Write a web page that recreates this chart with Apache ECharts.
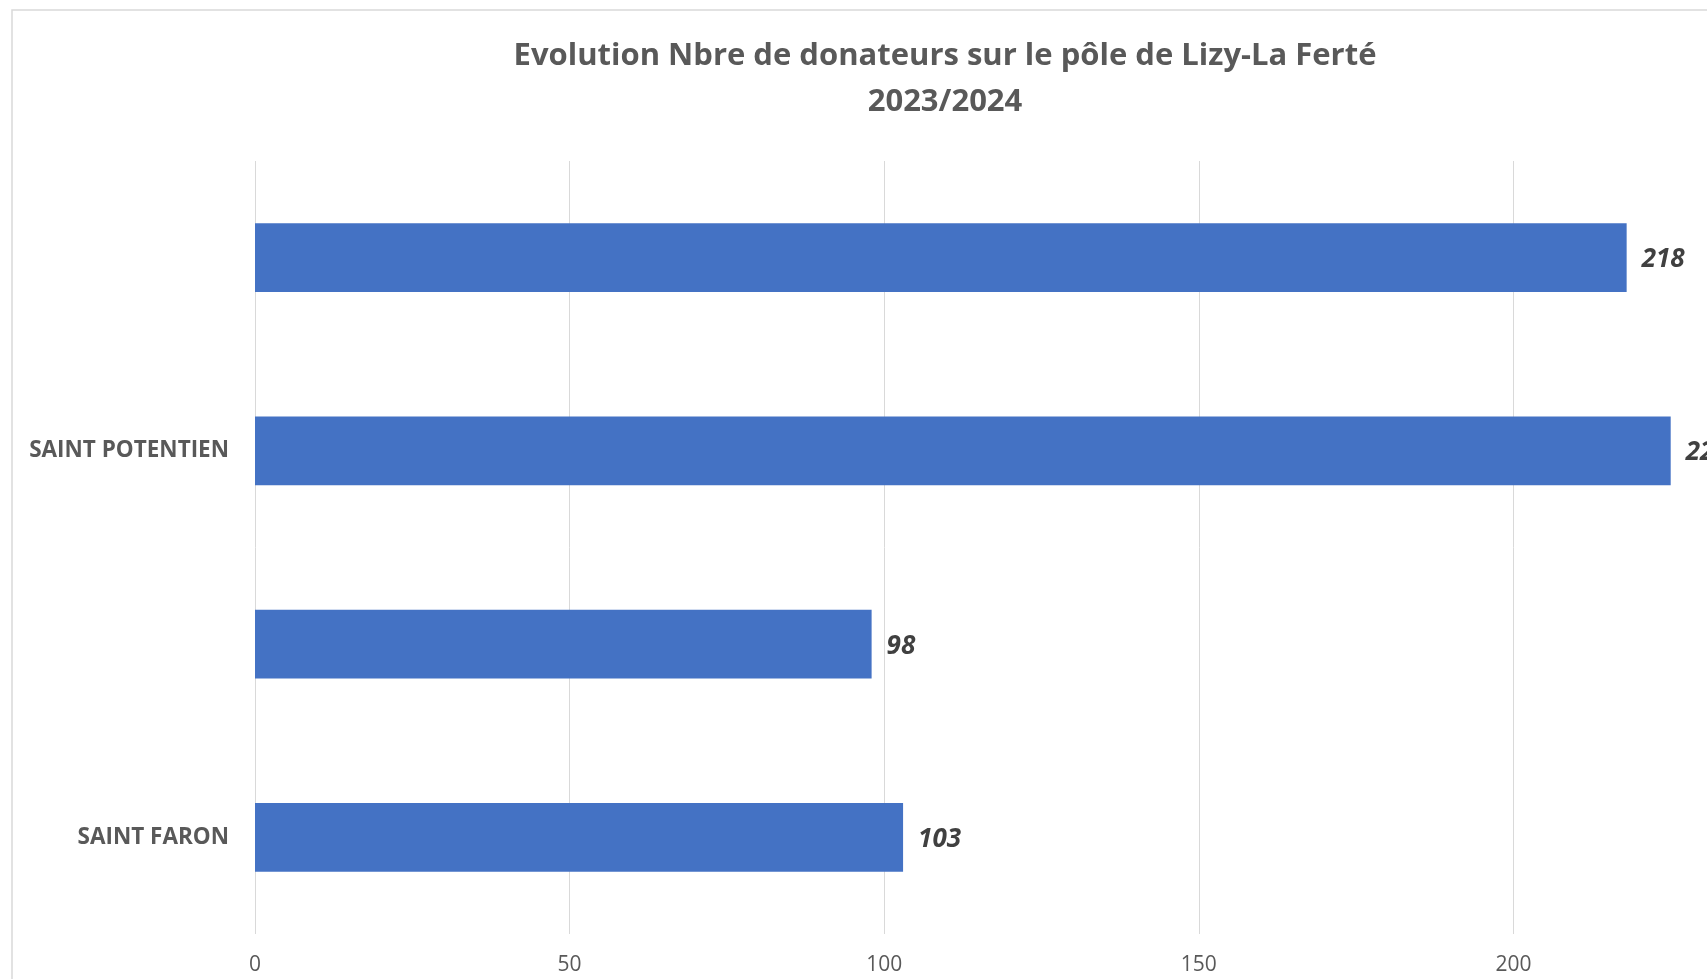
<!DOCTYPE html>
<html><head><meta charset="utf-8">
<script src="https://cdn.jsdelivr.net/npm/echarts@6/dist/echarts.min.js"></script>
<style>html,body{margin:0;padding:0;background:#fff}#c{width:1707px;height:979px}</style>
</head><body><div id="c"></div>
<script>
var categories = ['SAINT FARON', '', 'SAINT POTENTIEN', ''];
var values = [103, 98, 225, 218];
var xTicks = {min: 0, max: 250, interval: 50};
var titleText = 'Evolution Nbre de donateurs sur le pôle de Lizy-La Ferté\n2023/2024';

var chart = echarts.init(document.getElementById('c'));
chart.setOption({
  backgroundColor: '#fff',
  animation: false,
  title: {
    text: titleText,
    left: 940, top: 28, textAlign: 'center',
    textStyle: {fontFamily: 'Open Sans', fontWeight: 'bold', fontSize: 31, lineHeight: 46, color: '#595959'}
  },
  graphic: [{type: 'rect', shape: {x: 12, y: 10, width: 1900, height: 1100}, style: {fill: 'none', stroke: '#d9d9d9', lineWidth: 1.5}, silent: true, z: -1}],
  grid: {left: 255, top: 161, height: 773, width: 1573, containLabel: false, outerBoundsMode: 'none'},
  xAxis: {
    type: 'value', min: xTicks.min, max: xTicks.max, interval: xTicks.interval,
    axisLine: {show: false}, axisTick: {show: false},
    splitLine: {show: true, lineStyle: {color: '#d9d9d9', width: 1}},
    axisLabel: {margin: 21, fontFamily: 'Open Sans', fontSize: 21, color: '#595959'}
  },
  yAxis: {
    type: 'category', data: categories,
    axisLine: {show: false}, axisTick: {show: false},
    axisLabel: {interval: 0, margin: 26, fontFamily: 'Open Sans', fontWeight: 'bold', fontSize: 22.5, color: '#595959'}
  },
  series: [{
    type: 'bar', data: values, barWidth: '35.5%',
    itemStyle: {color: '#4472C4'},
    label: {show: true, position: 'right', distance: 15, offset: [0, 2], fontFamily: 'Open Sans', fontWeight: 'bold', fontStyle: 'italic', fontSize: 26, color: '#404040'}
  }]
});
</script></body></html>
